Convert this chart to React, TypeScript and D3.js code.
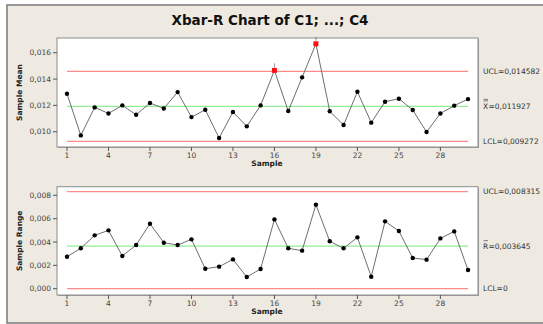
import React from 'react';
import * as d3 from 'd3';

const samples = d3.range(1, 31);
const means = [0.01289, 0.00972, 0.01185, 0.01139, 0.0120, 0.01129, 0.01218, 0.01177, 0.01301, 0.01111,
  0.01167, 0.00952, 0.0115, 0.01041, 0.0120, 0.01466, 0.01157, 0.01413, 0.01668, 0.01155,
  0.01051, 0.01304, 0.01069, 0.01228, 0.01251, 0.01165, 0.00998, 0.01139, 0.01198, 0.01248];
const ranges = [0.00274, 0.00346, 0.00457, 0.0050, 0.0028, 0.00374, 0.00557, 0.00394, 0.00374, 0.00423,
  0.00171, 0.00189, 0.00251, 0.0010, 0.00169, 0.00594, 0.00346, 0.00326, 0.0072, 0.00406,
  0.00346, 0.0044, 0.00103, 0.00577, 0.00494, 0.00263, 0.00249, 0.00431, 0.00491, 0.0016];
const xTicks = [1, 4, 7, 10, 13, 16, 19, 22, 25, 28];
const meanTicks = [0.010, 0.012, 0.014, 0.016];
const rangeTicks = [0, 0.002, 0.004, 0.006, 0.008];
const meanLimits = { ucl: 0.014582, center: 0.011927, lcl: 0.009272 };
const rangeLimits = { ucl: 0.008315, center: 0.003645, lcl: 0 };
const failed = [16, 19];

const W = 543, H = 324;
const left = 57, right = 478;
const font = 'DejaVu Sans, Verdana, sans-serif';
const fmt = (v: number, d: number) => v.toFixed(d).replace('.', ',');

function Panel({ top, bottom, domain, values, ticks, limits, yLabel, centerSym, showFails }: any) {
  const x = d3.scaleLinear().domain([0.277, 30.72]).range([left, right]);
  const y = d3.scaleLinear().domain(domain).range([bottom, top]);
  const line = d3.line<number>().x((d, i) => x(samples[i])).y(d => y(d));
  const lim = [
    { v: limits.ucl, c: '#ff8a8a', label: 'UCL=' + fmt(limits.ucl, 6) },
    { v: limits.center, c: '#93ee93', label: '=' + fmt(limits.center, 6) },
    { v: limits.lcl, c: '#ff8a8a', label: limits.lcl === 0 ? 'LCL=0' : 'LCL=' + fmt(limits.lcl, 6) },
  ];
  const x0 = x(1), x1 = x(30);
  const letter = centerSym === 'xx' ? 'X' : 'R';
  return (
    <g>
      <rect x={left + 1} y={top + 1} width={right - left} height={bottom - top} fill="#a0a0a0" />
      <rect x={left} y={top} width={right - left} height={bottom - top} fill="#fff" stroke="#8c8c8c" strokeWidth={1} />
      {ticks.map((t: number) => (
        <g key={t}>
          <line x1={left - 4} x2={left} y1={y(t)} y2={y(t)} stroke="#555" />
          <text x={left - 6} y={y(t) + 2.7} fontSize={7.5} textAnchor="end" fill="#444" fontFamily={font}>{fmt(t, 3)}</text>
        </g>
      ))}
      {xTicks.map(t => (
        <g key={t}>
          <line x1={x(t)} x2={x(t)} y1={bottom} y2={bottom + 4} stroke="#555" />
          <text x={x(t)} y={bottom + 11} fontSize={7.5} textAnchor="middle" fill="#444" fontFamily={font}>{t}</text>
        </g>
      ))}
      {lim.map((l, i) => (
        <g key={i}>
          <line x1={x0} x2={x1} y1={y(l.v)} y2={y(l.v)} stroke={l.c} strokeWidth={1.3} />
          {i === 1 ? (
            <g>
              <text x={483} y={y(l.v) + 2.7} fontSize={7.5} fill="#333" fontFamily={font}>{letter}</text>
              <line x1={483.5} x2={488} y1={y(l.v) - 5.5} y2={y(l.v) - 5.5} stroke="#333" strokeWidth={0.6} />
              {centerSym === 'xx' ? (
                <line x1={483.5} x2={488} y1={y(l.v) - 7} y2={y(l.v) - 7} stroke="#333" strokeWidth={0.6} />
              ) : null}
              <text x={488.5} y={y(l.v) + 2.7} fontSize={7.5} fill="#333" fontFamily={font}>{l.label}</text>
            </g>
          ) : (
            <text x={483} y={y(l.v) + 2.7} fontSize={7.5} fill="#333" fontFamily={font}>{l.label}</text>
          )}
        </g>
      ))}
      <path d={line(values) || ''} fill="none" stroke="#6e6e6e" strokeWidth={1} />
      {values.map((v: number, i: number) => {
        const s = samples[i];
        if (showFails && failed.includes(s)) {
          return (
            <g key={i}>
              <line x1={x(s)} x2={x(s)} y1={y(v) - 7} y2={y(v) - 3} stroke="#777" strokeWidth={0.8} />
              <rect x={x(s) - 2.5} y={y(v) - 2.5} width={5} height={5} fill="#ff1010" />
            </g>
          );
        }
        return <circle key={i} cx={x(s)} cy={y(v)} r={2.2} fill="#000" />;
      })}
      <text x={267} y={bottom + 19} fontSize={7.5} fontWeight="bold" textAnchor="middle" fill="#222" fontFamily={font}>Sample</text>
      <text transform={`translate(22,${(top + bottom) / 2}) rotate(-90)`} fontSize={7.5} fontWeight="bold" textAnchor="middle" fill="#222" fontFamily={font}>{yLabel}</text>
    </g>
  );
}

export default function App() {
  return (
    <div style={{ position: 'absolute', left: 0, top: 0 }}>
      <svg width={W} height={H} style={{ display: 'block' }}>
        <rect x={0} y={0} width={W} height={H} fill="#fff" />
        <rect x={7} y={5} width={W} height={318} fill="#eeeae1" stroke="#7a7a7a" strokeWidth={1.5} />
        <text x={270} y={25} fontSize={13.5} fontWeight="bold" textAnchor="middle" fill="#111" fontFamily={font}>Xbar-R Chart of C1; ...; C4</text>
        <Panel top={38} bottom={147} domain={[0.00884, 0.01712]} values={means} ticks={meanTicks}
          limits={meanLimits} yLabel="Sample Mean" centerSym="xx" showFails />
        <Panel top={186.7} bottom={295} domain={[-0.00054, 0.00874]} values={ranges} ticks={rangeTicks}
          limits={rangeLimits} yLabel="Sample Range" centerSym="r" showFails={false} />
      </svg>
    </div>
  );
}
